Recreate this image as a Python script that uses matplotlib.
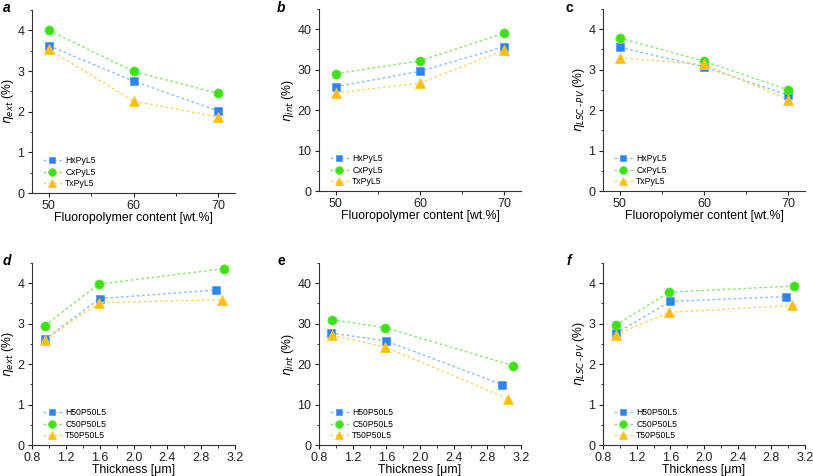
import matplotlib
matplotlib.use("Agg")
import matplotlib.pyplot as plt
from matplotlib.ticker import MultipleLocator, FormatStrFormatter

plt.rcParams['font.family'] = ['Liberation Sans', 'DejaVu Sans']
plt.rcParams['mathtext.fontset'] = 'dejavusans'

# ---- data ----
content = [50, 60, 70]
names_top = ["HxPyL5", "CxPyL5", "TxPyL5"]
names_bot = ["H50P50L5", "C50P50L5", "T50P50L5"]

a_H = [3.62, 2.75, 2.02]
a_C = [4.00, 2.99, 2.45]
a_T = [3.53, 2.26, 1.87]

b_H = [25.8, 29.6, 35.7]
b_C = [29.0, 32.2, 39.0]
b_T = [24.2, 26.7, 34.8]

c_H = [3.55, 3.07, 2.37]
c_C = [3.78, 3.21, 2.50]
c_T = [3.29, 3.13, 2.26]

thick_H = [0.95, 1.60, 2.97]
thick_C = [0.95, 1.59, 3.07]
thick_T = [0.95, 1.59, 3.05]
e_thick_H = [0.94, 1.60, 2.98]
e_thick_C = [0.95, 1.59, 3.11]
e_thick_T = [0.95, 1.59, 3.05]

d_H = [2.61, 3.62, 3.83]
d_C = [2.95, 3.98, 4.36]
d_T = [2.59, 3.52, 3.59]

e_H = [27.7, 25.7, 14.9]
e_C = [31.0, 29.0, 19.6]
e_T = [27.2, 24.2, 11.4]

f_H = [2.76, 3.55, 3.67]
f_C = [2.96, 3.78, 3.93]
f_T = [2.73, 3.28, 3.45]

err_small = [0.10, 0.10, 0.12]
err_big = [1.0, 1.0, 1.2]

# ---- style ----
styles = [
    dict(marker='s', ms=5.5, mfc='#2f83f0', mec='#5aa0f5', line='#8cc0f5'),
    dict(marker='o', ms=6.5, mfc='#3fe01a', mec='#5ae83a', line='#8ae870'),
    dict(marker='^', ms=7, mfc='#ffbe0a', mec='#ffc830', line='#ffd36a'),
]

W, H = 813, 476
fig = plt.figure(figsize=(W / 100, H / 100), dpi=100)

def ax_at(l, t, r, b):
    return fig.add_axes([l / W, 1 - b / H, (r - l) / W, (b - t) / H])

def draw(ax, xs, ys, names, errs, ylim, ymaj, ymin, xlim, xmaj, xmin, ylabel, xlabel, xticks_fmt=None):
    for x, y, s, n in zip(xs, ys, styles, names):
        ax.errorbar(x, y, yerr=errs, fmt='none', ecolor=s['line'], elinewidth=0.8, alpha=0.6, zorder=2)
        ax.plot(x, y, ls=(0, (2, 1.8)), lw=1.0, color=s['line'], marker=s['marker'],
                ms=s['ms'], mfc=s['mfc'], mec=s['mec'], mew=0.6, label=n, zorder=3)
    ax.set_ylim(*ylim)
    ax.set_xlim(*xlim)
    ax.yaxis.set_major_locator(MultipleLocator(ymaj))
    ax.yaxis.set_minor_locator(MultipleLocator(ymin))
    ax.xaxis.set_major_locator(MultipleLocator(xmaj))
    ax.xaxis.set_minor_locator(MultipleLocator(xmin))
    if xticks_fmt:
        ax.xaxis.set_major_formatter(xticks_fmt)
    for sp in ['top', 'right']:
        ax.spines[sp].set_visible(False)
    for sp in ['left', 'bottom']:
        ax.spines[sp].set_linewidth(0.8)
        ax.spines[sp].set_color('#333333')
    ax.tick_params(which='major', direction='out', length=3, width=0.8, labelsize=9,
                   colors='#222222', pad=2.5)
    ax.tick_params(axis='x', which='major', pad=1.8)
    ax.tick_params(which='minor', direction='out', length=1.8, width=0.7, colors='#333333')
    ax.set_ylabel(ylabel, fontsize=8.8, labelpad=1)
    ax.set_xlabel(xlabel, fontsize=8.8, labelpad=0.5)
    ax.legend(loc='lower left', bbox_to_anchor=(0.03, 0.0), frameon=False, fontsize=6.2,
              handlelength=2.2, handletextpad=0.4, labelspacing=0.3, markerscale=0.85,
              borderaxespad=0.15)

fmt1 = FormatStrFormatter('%.1f')

ax_a = ax_at(32, 10, 235, 193)
draw(ax_a, [content] * 3, [a_H, a_C, a_T], names_top, err_small, (0, 4.5), 1, 0.5,
     (48, 72), 10, 5, r'$\eta_{ext}$ (%)', 'Fluoropolymer content [wt.%]')
ax_b = ax_at(319, 9, 521, 191)
draw(ax_b, [content] * 3, [b_H, b_C, b_T], names_top, err_big, (0, 45), 10, 5,
     (48, 72), 10, 5, r'$\eta_{int}$ (%)', 'Fluoropolymer content [wt.%]')
ax_c = ax_at(603, 9, 805, 191)
draw(ax_c, [content] * 3, [c_H, c_C, c_T], names_top, err_small, (0, 4.5), 1, 0.5,
     (48, 72), 10, 5, r'$\eta_{LSC\,\text{-}\,PV}$ (%)', 'Fluoropolymer content [wt.%]')

ax_d = ax_at(32, 263, 235, 445)
draw(ax_d, [thick_H, thick_C, thick_T], [d_H, d_C, d_T], names_bot, err_small, (0, 4.5), 1, 0.5,
     (0.8, 3.2), 0.4, 0.2, r'$\eta_{ext}$ (%)', 'Thickness [\u03bcm]', fmt1)
ax_e = ax_at(319, 263, 521, 445)
draw(ax_e, [e_thick_H, e_thick_C, e_thick_T], [e_H, e_C, e_T], names_bot, err_big, (0, 45), 10, 5,
     (0.8, 3.2), 0.4, 0.2, r'$\eta_{int}$ (%)', 'Thickness [\u03bcm]', fmt1)
ax_f = ax_at(603, 263, 805, 445)
draw(ax_f, [thick_H, thick_C, thick_T], [f_H, f_C, f_T], names_bot, err_small, (0, 4.5), 1, 0.5,
     (0.8, 3.2), 0.4, 0.2, r'$\eta_{LSC\,\text{-}\,PV}$ (%)', 'Thickness [\u03bcm]', fmt1)

labels = [('a', 3, 12, 'italic'), ('b', 277, 12, 'italic'), ('c', 565, 12, 'normal'),
          ('d', 3, 265, 'italic'), ('e', 278, 265, 'normal'), ('f', 566, 265, 'italic')]
for t, x, y, st in labels:
    fig.text(x / W, 1 - y / H, t, fontsize=10, fontweight='bold', fontstyle=st, va='baseline')

fig.savefig('out.png', dpi=100)
